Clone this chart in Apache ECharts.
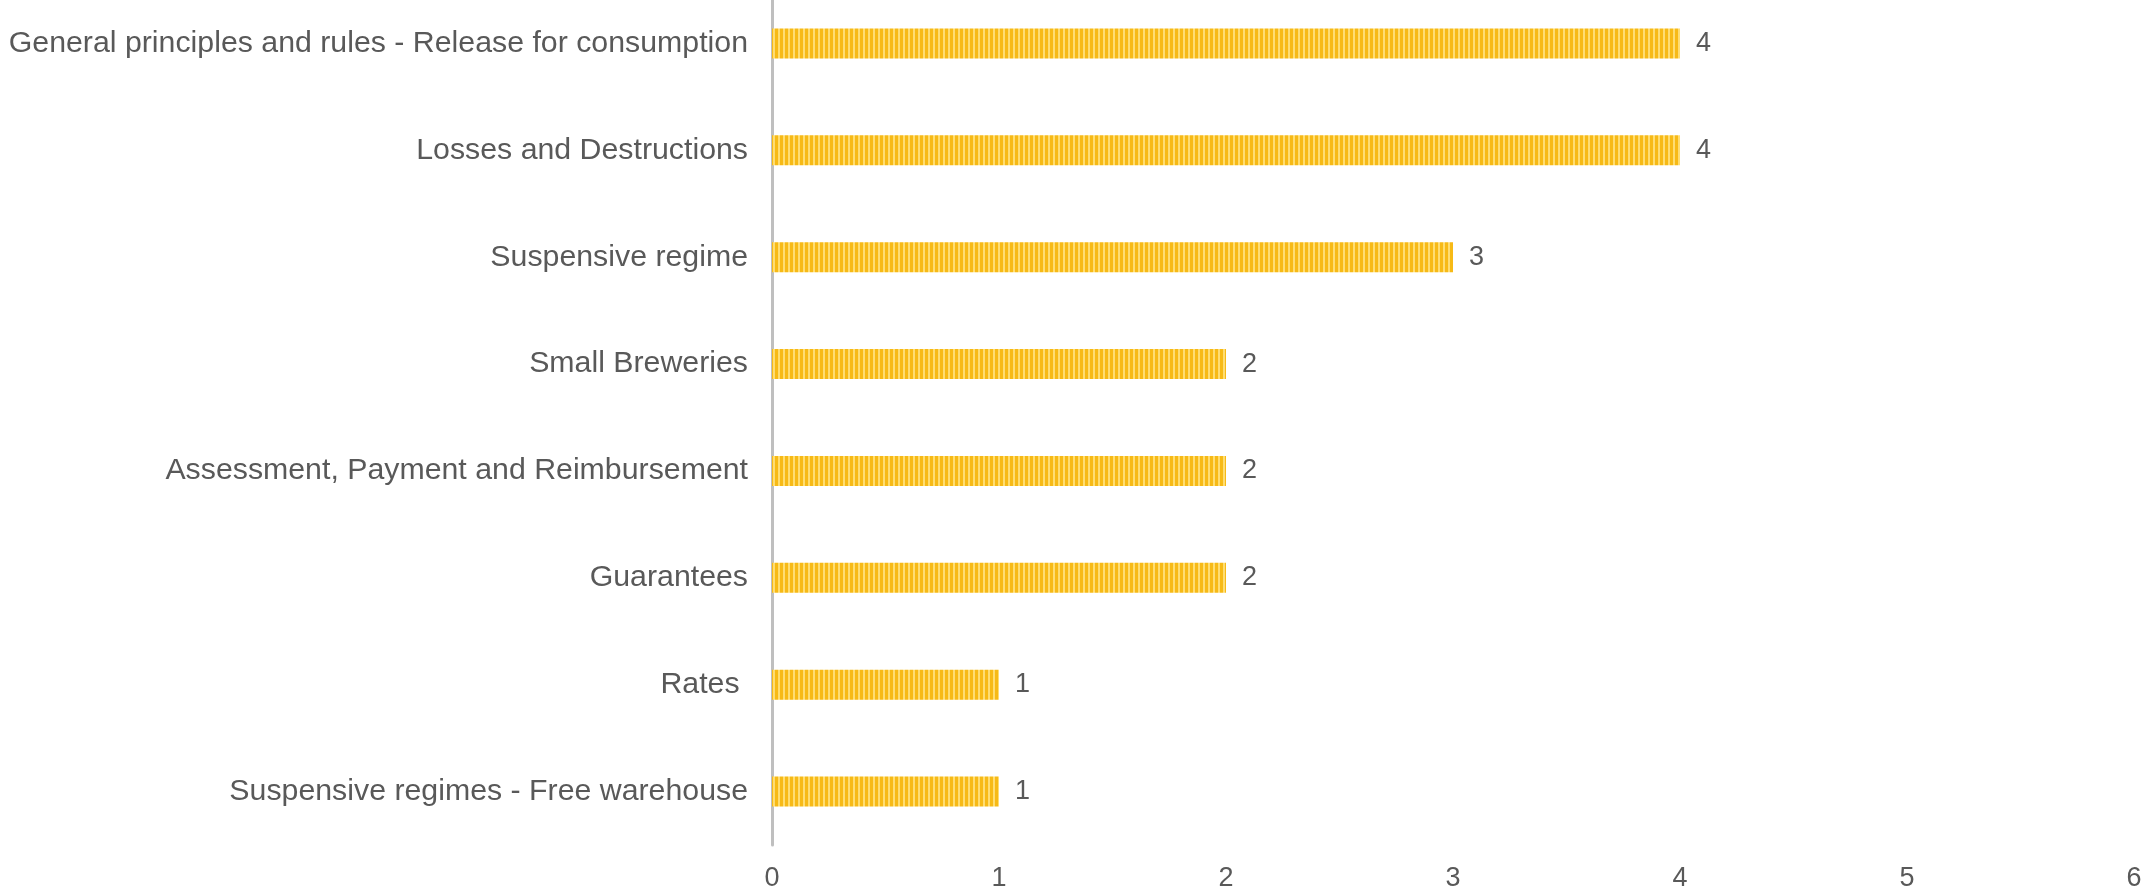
<!DOCTYPE html>
<html>
<head>
<meta charset="utf-8">
<style>
html,body{margin:0;padding:0;background:#fff;overflow:hidden;}
#chart{width:2153px;height:905px;margin-top:-10px;}
</style>
<script src="https://cdn.jsdelivr.net/npm/echarts@6/dist/echarts.min.js"></script>
</head>
<body>
<div id="chart"></div>
<script>
const categories = [
  "General principles and rules - Release for consumption",
  "Losses and Destructions",
  "Suspensive regime",
  "Small Breweries",
  "Assessment, Payment and Reimbursement",
  "Guarantees",
  "Rates ",
  "Suspensive regimes - Free warehouse"
];
const values = [4, 4, 3, 2, 2, 2, 1, 1];
const xTicks = [0, 1, 2, 3, 4, 5, 6];

const pat = document.createElement('canvas');
pat.width = 5; pat.height = 4;
const ctx = pat.getContext('2d');
ctx.fillStyle = '#FFDD72'; ctx.fillRect(0, 0, 5, 4);
ctx.fillStyle = '#F7BA16'; ctx.fillRect(0, 0, 3, 4);

const font = 'Liberation Sans, Arial, sans-serif';
const chart = echarts.init(document.getElementById('chart'), null, {renderer: 'canvas'});
chart.setOption({
  animation: false,
  backgroundColor: '#ffffff',
  grid: {left: 772, right: 19, top: 0, bottom: 50, containLabel: false},
  xAxis: {
    type: 'value', min: xTicks[0], max: xTicks[xTicks.length - 1], interval: 1,
    axisLine: {show: false}, axisTick: {show: false}, splitLine: {show: false},
    axisLabel: {color: '#595959', fontSize: 27, fontFamily: font, margin: 20}
  },
  yAxis: {
    type: 'category', data: categories, inverse: true,
    axisLine: {show: true, lineStyle: {color: '#BFBFBF', width: 3}},
    axisTick: {show: false},
    axisLabel: {color: '#595959', fontSize: 30.3, fontFamily: font, margin: 24}
  },
  series: [{
    type: 'bar', data: values, barWidth: 30,
    itemStyle: {color: {image: pat, repeat: 'repeat'}},
    label: {show: true, position: 'right', distance: 16, color: '#595959', fontSize: 27, fontFamily: font}
  }]
});
</script>
</body>
</html>
